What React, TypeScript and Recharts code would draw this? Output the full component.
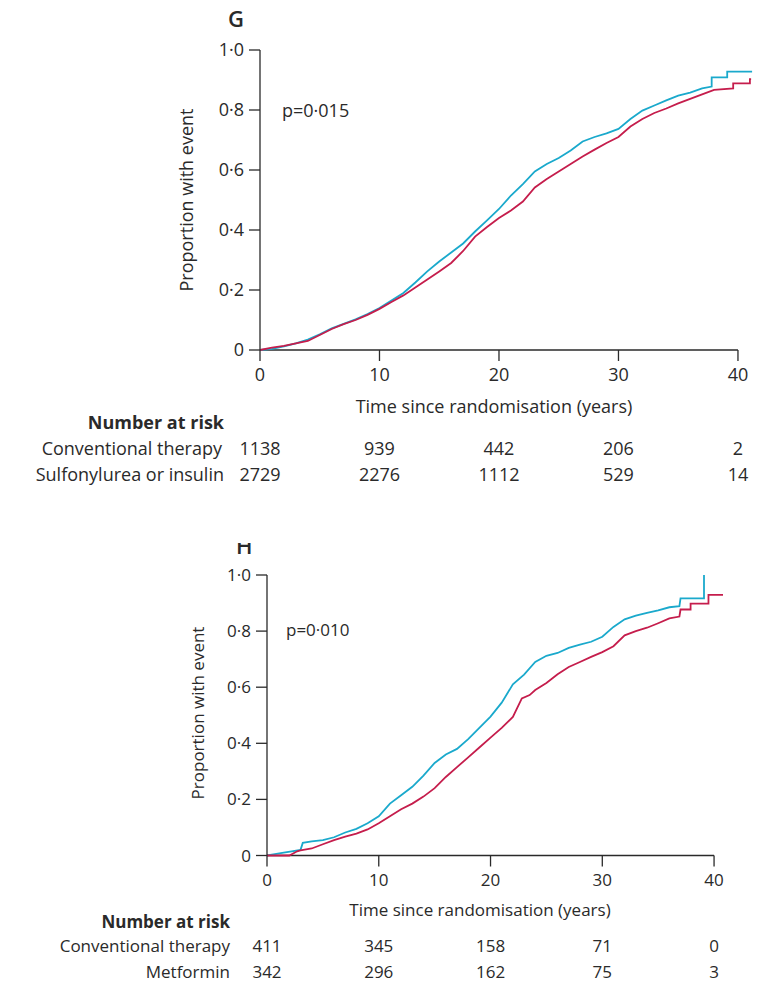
import React from "react";
import { LineChart, Line, XAxis, YAxis, ReferenceLine } from "recharts";

// ---------- Panel G data ----------
const gConvTimes = [0, 1, 2, 3, 4, 5, 6, 7, 8, 9, 10, 11, 12, 13, 14, 15, 16, 17, 18, 19, 20, 21, 22, 23, 24, 25, 26, 27, 28, 29, 30, 31, 32, 33, 34, 35, 36, 37, 37.8, 37.8, 39.1, 39.1, 41.2];
const gConvValues = [0, 0.004, 0.012, 0.022, 0.035, 0.052, 0.072, 0.087, 0.102, 0.12, 0.14, 0.165, 0.19, 0.225, 0.262, 0.295, 0.325, 0.355, 0.395, 0.432, 0.47, 0.515, 0.553, 0.595, 0.62, 0.64, 0.665, 0.695, 0.71, 0.722, 0.737, 0.77, 0.798, 0.815, 0.832, 0.848, 0.858, 0.872, 0.878, 0.909, 0.909, 0.928, 0.928];
const gSulfTimes = [0, 1, 2, 3, 4, 5, 6, 7, 8, 9, 10, 11, 12, 13, 14, 15, 16, 17, 18, 19, 20, 21, 22, 23, 24, 25, 26, 27, 28, 29, 30, 31, 32, 33, 34, 35, 36, 37, 38, 39.6, 39.6, 41.0, 41.0, 41.1];
const gSulfValues = [0, 0.008, 0.014, 0.022, 0.03, 0.05, 0.07, 0.086, 0.1, 0.117, 0.137, 0.16, 0.182, 0.208, 0.235, 0.262, 0.29, 0.33, 0.378, 0.41, 0.44, 0.465, 0.495, 0.542, 0.57, 0.595, 0.62, 0.645, 0.668, 0.69, 0.71, 0.745, 0.77, 0.79, 0.805, 0.822, 0.837, 0.852, 0.867, 0.872, 0.889, 0.889, 0.903, 0.903];
const gRiskTimes = [0, 10, 20, 30, 40];
const gRiskConv = [1138, 939, 442, 206, 2];
const gRiskSulf = [2729, 2276, 1112, 529, 14];

// ---------- Panel H data ----------
const hConvTimes = [0, 0.7, 1.5, 2.2, 3.0, 3.2, 4, 5, 6, 7, 8, 9, 10, 11, 12, 13, 14, 15, 16, 17, 18, 19, 20, 21, 22, 23, 24, 25, 26, 27, 28, 29, 30, 31, 32, 33, 34, 35, 36, 36.9, 37, 39.1, 39.1];
const hConvValues = [0, 0.005, 0.01, 0.015, 0.02, 0.045, 0.05, 0.055, 0.065, 0.082, 0.095, 0.115, 0.14, 0.185, 0.215, 0.245, 0.285, 0.33, 0.36, 0.38, 0.415, 0.455, 0.495, 0.545, 0.61, 0.645, 0.69, 0.712, 0.722, 0.74, 0.752, 0.762, 0.78, 0.815, 0.842, 0.855, 0.865, 0.874, 0.885, 0.889, 0.917, 0.917, 1.0];
const hMetTimes = [0, 2, 2.7, 3, 4, 5, 6, 7, 8, 9, 10, 11, 12, 13, 14, 15, 16, 17, 18, 19, 20, 21, 22, 22.8, 23.5, 24, 25, 26, 27, 28, 29, 30, 31, 32, 33, 34, 35, 36, 36.9, 37, 37.9, 37.9, 39.5, 39.5, 40.8];
const hMetValues = [0, 0, 0.015, 0.018, 0.025, 0.04, 0.055, 0.067, 0.078, 0.093, 0.115, 0.14, 0.165, 0.185, 0.21, 0.24, 0.28, 0.315, 0.35, 0.385, 0.42, 0.455, 0.494, 0.56, 0.572, 0.59, 0.615, 0.646, 0.672, 0.69, 0.708, 0.725, 0.746, 0.785, 0.8, 0.812, 0.828, 0.845, 0.852, 0.877, 0.877, 0.898, 0.898, 0.929, 0.929];
const hRiskTimes = [0, 10, 20, 30, 40];
const hRiskConv = [411, 345, 158, 71, 0];
const hRiskMet = [342, 296, 162, 75, 3];

const yTicks = [0, 0.2, 0.4, 0.6, 0.8, 1.0];
const xTicks = [0, 10, 20, 30, 40];

const CYAN = "#1aa9cc";
const RED = "#c51d4c";
const INK = "#2a2a2a";
const FONT = "'Open Sans', sans-serif";

const toData = (ts: number[], vs: number[]) => ts.map((t, i) => ({ t, p: vs[i] }));
const fmtY = (v: number) => (v === 0 ? "0" : v.toFixed(1).replace(".", "\u00B7"));

// layout constants
const G = { top: 0, left: 200, yw: 60, plotTop: 50, plotH: 300, xMax: 41.2, right: 13.7, h: 400, font: 18 };
const H = { top: 525, left: 207, yw: 60, plotTop: 50, plotH: 280.5, xMax: 40.8, right: 43, h: 400, font: 17 };

function Panel({ cfg, convData, otherData }: any) {
  const xAxisH = 30;
  const bottom = cfg.h - cfg.plotTop - cfg.plotH - xAxisH;
  const tickStyle = { fill: INK, fontSize: cfg.font, fontFamily: FONT };
  return (
    <div style={{ position: "absolute", left: 0, top: cfg.top }}>
      <LineChart
        width={766}
        height={cfg.h}
        margin={{ top: cfg.plotTop, right: cfg.right, left: cfg.left, bottom }}
      >
        <XAxis
          type="number"
          dataKey="t"
          domain={[0, cfg.xMax]}
          ticks={xTicks}
          axisLine={false}
          tickLine={{ stroke: INK, strokeWidth: 1.3 }}
          tickSize={11}
          tickMargin={7}
          height={xAxisH}
          tick={tickStyle}
          allowDataOverflow
        />
        <YAxis
          type="number"
          domain={[0, 1]}
          ticks={yTicks}
          width={cfg.yw}
          axisLine={{ stroke: INK, strokeWidth: 1.3 }}
          tickLine={{ stroke: INK, strokeWidth: 1.3 }}
          tickSize={11}
          tickMargin={5}
          tick={tickStyle}
          tickFormatter={fmtY}
        />
        <ReferenceLine
          segment={[{ x: 0, y: 0 }, { x: 40, y: 0 }]}
          stroke={INK}
          strokeWidth={1.3}
          ifOverflow="visible"
        />
        <Line data={convData} dataKey="p" type="linear" stroke={CYAN} strokeWidth={1.8} dot={false} isAnimationActive={false} />
        <Line data={otherData} dataKey="p" type="linear" stroke={RED} strokeWidth={1.8} dot={false} isAnimationActive={false} />
      </LineChart>
    </div>
  );
}

export default function App() {
  const gx = (t: number) => G.left + G.yw + (t * (766 - G.right - G.left - G.yw)) / G.xMax;
  const hx = (t: number) => H.left + H.yw + (t * (766 - H.right - H.left - H.yw)) / H.xMax;
  const txt = { fill: INK, fontFamily: FONT } as const;
  return (
    <div style={{ position: "absolute", left: 0, top: 0, width: 766, height: 986, background: "#fff", overflow: "hidden" }}>
      <Panel cfg={G} convData={toData(gConvTimes, gConvValues)} otherData={toData(gSulfTimes, gSulfValues)} />
      <Panel cfg={H} convData={toData(hConvTimes, hConvValues)} otherData={toData(hMetTimes, hMetValues)} />
      <svg width={766} height={986} style={{ position: "absolute", left: 0, top: 0, pointerEvents: "none" }}>
        <defs>
          <clipPath id="hclip">
            <rect x={220} y={543} width={60} height={20} />
          </clipPath>
        </defs>
        {/* Panel G texts */}
        <text x={228} y={27} fontSize={22} fontWeight={600} {...txt}>G</text>
        <text x={282} y={117} fontSize={18} {...txt}>p=0·015</text>
        <text x={186} y={200} fontSize={18} textAnchor="middle" dominantBaseline="central" transform="rotate(-90 186 200)" {...txt}>Proportion with event</text>
        <text x={494} y={413} fontSize={18} textAnchor="middle" {...txt}>Time since randomisation (years)</text>
        <text x={224} y={429} fontSize={18} fontWeight={700} textAnchor="end" {...txt}>Number at risk</text>
        <text x={222} y={455} fontSize={18} textAnchor="end" {...txt}>Conventional therapy</text>
        <text x={224} y={481} fontSize={18} textAnchor="end" {...txt}>Sulfonylurea or insulin</text>
        {gRiskTimes.map((t, i) => (
          <text key={"gc" + i} x={gx(t)} y={455} fontSize={18} textAnchor="middle" {...txt}>{gRiskConv[i]}</text>
        ))}
        {gRiskTimes.map((t, i) => (
          <text key={"gs" + i} x={gx(t)} y={481} fontSize={18} textAnchor="middle" {...txt}>{gRiskSulf[i]}</text>
        ))}
        {/* Panel H texts */}
        <g clipPath="url(#hclip)">
          <text x={236} y={554} fontSize={22} fontWeight={600} {...txt}>H</text>
        </g>
        <text x={286} y={636} fontSize={17} {...txt}>p=0·010</text>
        <text x={197} y={713} fontSize={17} textAnchor="middle" dominantBaseline="central" transform="rotate(-90 197 713)" {...txt}>Proportion with event</text>
        <text x={480} y={916} fontSize={17} textAnchor="middle" {...txt}>Time since randomisation (years)</text>
        <text x={230} y={928} fontSize={17} fontWeight={700} textAnchor="end" {...txt}>Number at risk</text>
        <text x={230} y={952} fontSize={17} textAnchor="end" {...txt}>Conventional therapy</text>
        <text x={230} y={978} fontSize={17} textAnchor="end" {...txt}>Metformin</text>
        {hRiskTimes.map((t, i) => (
          <text key={"hc" + i} x={hx(t)} y={952} fontSize={17} textAnchor="middle" {...txt}>{hRiskConv[i]}</text>
        ))}
        {hRiskTimes.map((t, i) => (
          <text key={"hm" + i} x={hx(t)} y={978} fontSize={17} textAnchor="middle" {...txt}>{hRiskMet[i]}</text>
        ))}
      </svg>
    </div>
  );
}
